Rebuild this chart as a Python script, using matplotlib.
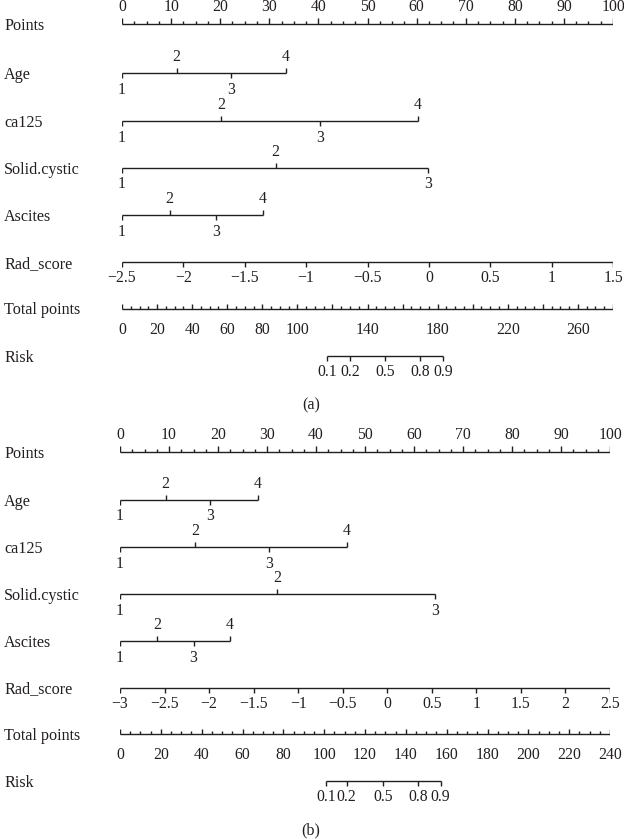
import numpy as np
import matplotlib.pyplot as plt

# === data ===
age_levels = ["1", "2", "3", "4"]
ca125_levels = ["1", "2", "3", "4"]
solid_levels = ["1", "2", "3"]
ascites_levels = ["1", "2", "3", "4"]
level_side = {"1": "below", "2": "above", "3": "below", "4": "above"}

# points assigned to each level, panel (a)
age_pts_a = [0, 11.1, 22.2, 33.3]
ca125_pts_a = [0, 20.2, 40.3, 60.2]
solid_pts_a = [0, 31.3, 62.4]
ascites_pts_a = [0, 9.7, 19.2, 28.7]
rad_ticks_a = [-2.5, -2, -1.5, -1, -0.5, 0, 0.5, 1, 1.5]
total_max_a = 280
total_labels_a = [0, 20, 40, 60, 80, 100, 140, 180, 220, 260]
risk_vals = [0.1, 0.2, 0.5, 0.8, 0.9]
risk_total_a = [117, 130, 150, 170, 183]

# panel (b)
age_pts_b = [0, 9.3, 18.4, 28.1]
ca125_pts_b = [0, 15.4, 30.5, 46.3]
solid_pts_b = [0, 32.0, 64.3]
ascites_pts_b = [0, 7.5, 15.0, 22.4]
rad_ticks_b = [-3, -2.5, -2, -1.5, -1, -0.5, 0, 0.5, 1, 1.5, 2, 2.5]
total_max_b = 240
total_labels_b = [0, 20, 40, 60, 80, 100, 120, 140, 160, 180, 200, 220, 240]
risk_total_b = [101, 111, 129, 146, 157]

INK = "#231f20"
FS = 11.3
FS_NAME = 11.6
plt.rcParams["font.family"] = ["Liberation Serif", "DejaVu Serif"]
plt.rcParams["axes.unicode_minus"] = True

W, H = 624, 839
fig = plt.figure(figsize=(W / 100, H / 100), dpi=100)


def fmt(v):
    s = ("%g" % v)
    return s.replace("-", "\u2212")


def hline(ax, x0, x1, y):
    ax.plot([x0, x1], [y, y], color=INK, lw=1.0, solid_capstyle="butt")


def tick(ax, x, y, length, up):
    d = -length if up else length
    ax.plot([x, x], [y, y + d], color=INK, lw=1.0, solid_capstyle="butt")


def level_row(ax, y, pts, levels):
    hline(ax, min(pts), max(pts), y)
    for p, lab in zip(pts, levels):
        up = level_side[lab] == "above"
        tick(ax, p, y, 5, up)
        ax.text(p, y - 16 if up else y + 17, lab, ha="center", va="center",
                fontsize=FS, color=INK)


def panel(left, right, top, name, age, ca, solid, asc, rad_ticks, tmax,
          tlabels, risk_tot, minor_tot, cap_y, gaps):
    ax = fig.add_axes([left / W, 0, (right - left) / W, 1])
    ax.set_xlim(0, 100)
    ax.set_ylim(H, 0)
    ax.axis("off")
    ys = top + np.cumsum([0] + gaps)
    names = ["Points", "Age", "ca125", "Solid.cystic", "Ascites",
             "Rad_score", "Total points", "Risk"]
    for nm, y in zip(names, ys):
        fig.text(4 / W, 1 - (y + 2) / H, nm, ha="left", va="center",
                 fontsize=FS_NAME, color=INK)

    # points axis
    y = ys[0]
    hline(ax, 0, 100, y)
    for v in np.arange(0, 100.01, 2.5):
        major = abs(v % 10) < 1e-6
        tick(ax, v, y, 6 if major else 3, True)
        if major:
            ax.text(v, y - 17, fmt(v), ha="center", va="center",
                    fontsize=FS, color=INK)

    level_row(ax, ys[1], age, age_levels)
    level_row(ax, ys[2], ca, ca125_levels)
    level_row(ax, ys[3], solid, solid_levels)
    level_row(ax, ys[4], asc, ascites_levels)

    # Rad_score: linear in points
    y = ys[5]
    r0, r1 = rad_ticks[0], rad_ticks[-1]
    rpos = [(r - r0) / (r1 - r0) * 100 for r in rad_ticks]
    hline(ax, rpos[0], rpos[-1], y)
    for p, r in zip(rpos, rad_ticks):
        tick(ax, p, y, 5, False)
        ax.text(p, y + 16, fmt(r), ha="center", va="center",
                fontsize=FS, color=INK)

    # total points
    y = ys[6]
    sc = 100.0 / tmax
    hline(ax, 0, tmax * sc, y)
    for v in np.arange(0, tmax + 0.01, minor_tot):
        major = abs(v % 20) < 1e-6
        tick(ax, v * sc, y, 5 if major else 3, True)
    for v in tlabels:
        ax.text(v * sc, y + 21, fmt(v), ha="center", va="center",
                fontsize=FS, color=INK)

    # risk
    y = ys[7]
    rp = [t * sc for t in risk_tot]
    hline(ax, rp[0], rp[-1], y)
    for p, r in zip(rp, risk_vals):
        tick(ax, p, y, 5, False)
        ax.text(p, y + 16, fmt(r), ha="center", va="center",
                fontsize=FS, color=INK)

    fig.text(311 / W, 1 - cap_y / H, name, ha="center", va="center",
             fontsize=FS_NAME, color=INK)


panel(122, 613, 24, "(a)", age_pts_a, ca125_pts_a, solid_pts_a, ascites_pts_a,
      rad_ticks_a, total_max_a, total_labels_a, risk_total_a, 5, 405,
      [49, 48, 46.5, 47.5, 47, 46.5, 47])
panel(120, 610, 452, "(b)", age_pts_b, ca125_pts_b, solid_pts_b, ascites_pts_b,
      rad_ticks_b, total_max_b, total_labels_b, risk_total_b, 5, 830,
      [47.5, 47.5, 47, 47, 46.5, 46.5, 47])

fig.savefig("out.png", dpi=100, facecolor="white")
